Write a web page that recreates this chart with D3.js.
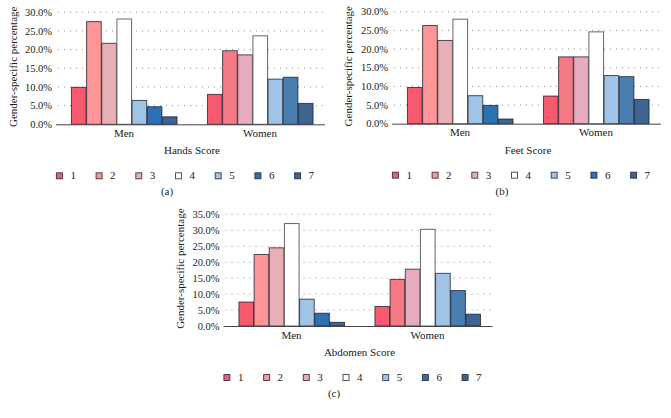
<!DOCTYPE html>
<html><head><meta charset="utf-8">
<script src="https://cdn.jsdelivr.net/npm/d3@7"></script>
<style>
html,body{margin:0;padding:0;background:#fff;}
svg{display:block;font-family:"Liberation Serif","DejaVu Serif",serif;}
</style></head>
<body><svg id="c" width="671" height="418"></svg>
<script>
const categories = ["Men", "Women"];
const scores = ["1", "2", "3", "4", "5", "6", "7"];
const ticksAB = [0, 5, 10, 15, 20, 25, 30];
const ticksC = [0, 5, 10, 15, 20, 25, 30, 35];

const handsMen   = [9.9, 27.5, 21.7, 28.2, 6.4, 4.7, 2.0];
const handsWomen = [8.0, 19.7, 18.6, 23.7, 12.1, 12.6, 5.6];
const feetMen    = [9.7, 26.3, 22.3, 28.0, 7.5, 4.9, 1.25];
const feetWomen  = [7.4, 17.9, 17.9, 24.6, 12.9, 12.6, 6.5];
const abdMen     = [7.5, 22.4, 24.5, 32.1, 8.4, 4.0, 1.15];
const abdWomen   = [6.1, 14.6, 17.8, 30.3, 16.5, 11.1, 3.7];

const menColors   = ["#f75a6e", "#fe9597", "#e8b0b5", "#ffffff", "#a0c4e6", "#2e70b4", "#3d6591"];
const womenColors = ["#f75a6e", "#f47a86", "#e6adc0", "#ffffff", "#a0c4e6", "#4a7db2", "#3d6591"];

const svg = d3.select("#c");
const FS = 11, FT = 10.5, TXT = "#1a1a1a";

function panel(o) {
  const g = svg.append("g");
  const x = d3.scaleBand().domain(categories).range([o.x0, o.x1]).paddingInner(0.22).paddingOuter(0.11);
  const xs = d3.scaleBand().domain(scores).range([0, x.bandwidth()]).padding(0);
  const y = d3.scaleLinear().domain([0, d3.max(o.ticks)]).range([o.yb, o.yt]);

  g.selectAll("line.grid").data(o.ticks.filter(t => t > 0)).join("line")
    .attr("x1", o.x0 + 2).attr("x2", o.x1).attr("y1", d => y(d)).attr("y2", d => y(d))
    .attr("stroke", "#8a8a8a").attr("stroke-width", 1).attr("stroke-dasharray", "1,5");

  g.selectAll("text.yt").data(o.ticks).join("text")
    .attr("x", o.x0 - 4).attr("y", d => y(d)).attr("dy", "0.35em")
    .attr("text-anchor", "end").attr("font-size", FT).attr("fill", TXT)
    .text(d => d3.format(".1f")(d) + "%");

  const series = [o.men, o.women];
  const cols = [menColors, womenColors];
  categories.forEach((c, ci) => {
    g.append("g").selectAll("rect").data(series[ci]).join("rect")
      .attr("x", (d, i) => x(c) + xs(scores[i]) + 0.5)
      .attr("y", d => y(d))
      .attr("width", xs.bandwidth() - 0.5)
      .attr("height", d => y(0) - y(d))
      .attr("fill", (d, i) => cols[ci][i])
      .attr("stroke", (d, i) => i === 3 ? "#666" : "rgba(20,25,40,0.75)")
      .attr("stroke-width", 1);
  });

  g.append("line").attr("x1", o.x0).attr("x2", o.x1 - 3).attr("y1", y(0) + 0.5).attr("y2", y(0) + 0.5)
    .attr("stroke", "#444").attr("stroke-width", 1);

  g.selectAll("text.cat").data(categories).join("text")
    .attr("x", d => x(d) + x.bandwidth() / 2).attr("y", y(0) + 12.5)
    .attr("text-anchor", "middle").attr("font-size", FS).attr("fill", TXT).text(d => d);

  g.append("text").attr("x", (o.x0 + o.x1) / 2).attr("y", y(0) + 30)
    .attr("text-anchor", "middle").attr("font-size", FS).attr("fill", TXT).text(o.title);

  g.append("text").attr("transform", `translate(${o.ytx},${(o.yt + o.yb) / 2 - 1.5}) rotate(-90)`)
    .attr("text-anchor", "middle").attr("font-size", FS).attr("fill", TXT)
    .text("Gender-specific percentage");

  const lg = g.append("g");
  scores.forEach((s, i) => {
    const cx = o.x0 + 3.4 + i * 39.7;
    lg.append("rect").attr("x", cx - 3).attr("y", y(0) + 51.5 - 3).attr("width", 6).attr("height", 6)
      .attr("fill", menColors[i]).attr("stroke", "rgba(20,25,40,0.75)").attr("stroke-width", 1);
    lg.append("text").attr("x", cx + 11).attr("y", y(0) + 55)
      .attr("font-size", FS).attr("fill", TXT).text(s);
  });

  g.append("text").attr("x", o.capx).attr("y", y(0) + 71)
    .attr("text-anchor", "middle").attr("font-size", FS).attr("fill", TXT).text(o.cap);
}

panel({x0: 56, x1: 328, yt: 12.3, yb: 124.3, ticks: ticksAB, men: handsMen, women: handsWomen,
  title: "Hands Score", ytx: 16.5, capx: 167, cap: "(a)"});
panel({x0: 392, x1: 664, yt: 11.7, yb: 123.7, ticks: ticksAB, men: feetMen, women: feetWomen,
  title: "Feet Score", ytx: 351.5, capx: 502, cap: "(b)"});
panel({x0: 223.5, x1: 495.5, yt: 214.3, yb: 326, ticks: ticksC, men: abdMen, women: abdWomen,
  title: "Abdomen Score", ytx: 184, capx: 334, cap: "(c)"});
</script>
</body></html>
